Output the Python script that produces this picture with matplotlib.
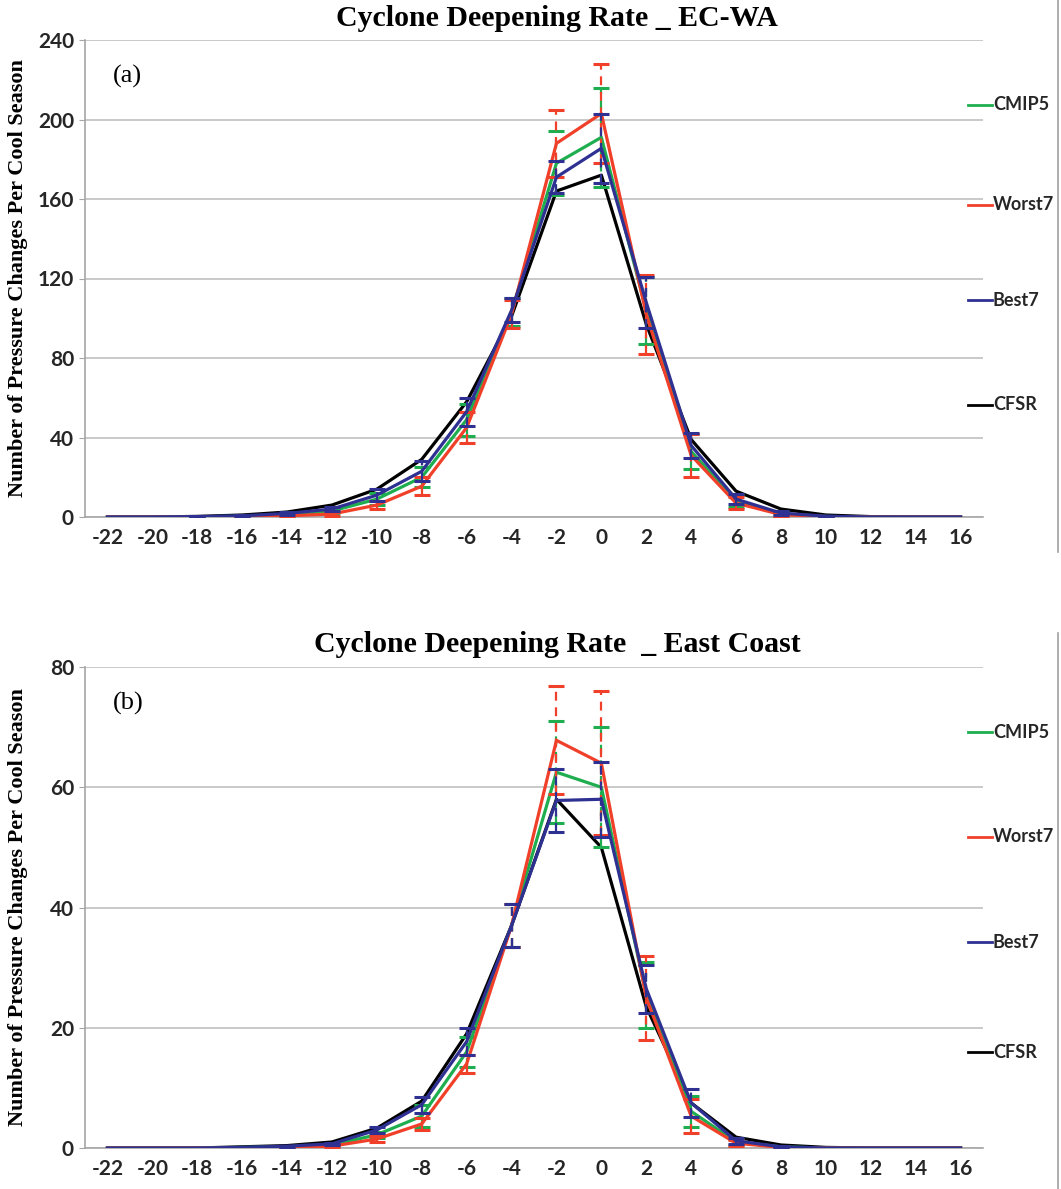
import matplotlib.pyplot as plt
from matplotlib.lines import Line2D
import numpy as np

# Deepening rate categories (hPa change)
x = [-22, -20, -18, -16, -14, -12, -10, -8, -6, -4, -2, 0, 2, 4, 6, 8, 10, 12, 14, 16]

# Panel (a) EC-WA
cfsr_a = [0, 0, 0.3, 1, 2.5, 6, 14, 29, 58, 101, 164, 172, 97, 39, 13, 4, 1, 0.2, 0, 0]
cmip5_a = [0, 0, 0.1, 0.4, 1.2, 3, 9, 20, 49, 103, 178, 191, 104, 33, 8, 1.5, 0.3, 0, 0, 0]
worst7_a = [0, 0, 0, 0.2, 0.6, 1.5, 6, 15.5, 45, 102, 188, 203, 102, 31, 7, 1.2, 0.2, 0, 0, 0]
best7_a = [0, 0, 0.2, 0.6, 1.8, 4, 11, 23, 53, 104, 171, 185.5, 108, 36, 9, 2, 0.4, 0, 0, 0]
cmip5_a_err = [0, 0, 0.1, 0.2, 0.5, 1.2, 3, 5, 8, 7, 16, 25, 17, 9, 3, 1, 0.3, 0, 0, 0]
worst7_a_err = [0, 0, 0, 0.2, 0.4, 1, 2, 4.5, 8, 7, 17, 25, 20, 11, 3, 1, 0.2, 0, 0, 0]
best7_a_err = [0, 0, 0.1, 0.3, 0.6, 1.2, 3, 5, 7, 6, 8, 17.5, 13, 6.5, 2.5, 1, 0.3, 0, 0, 0]

# Panel (b) East Coast
cfsr_b = [0, 0, 0, 0.2, 0.4, 1, 3.3, 7.8, 19, 37, 58, 50, 23.5, 7.5, 1.8, 0.5, 0.1, 0, 0, 0]
cmip5_b = [0, 0, 0, 0.1, 0.2, 0.5, 2.2, 5.3, 16, 37, 62.5, 60, 25.5, 6.1, 1, 0.2, 0, 0, 0, 0]
worst7_b = [0, 0, 0, 0, 0.1, 0.3, 1.5, 4, 14, 37, 67.8, 64, 25, 5.3, 0.8, 0.1, 0, 0, 0, 0]
best7_b = [0, 0, 0, 0.1, 0.3, 0.7, 3, 7.2, 17.7, 37, 57.8, 58, 26.5, 7.5, 1.2, 0.2, 0, 0, 0, 0]
cmip5_b_err = [0, 0, 0, 0, 0.1, 0.2, 0.5, 1.8, 2.5, 3.5, 8.5, 10, 5.5, 2.6, 0.5, 0.1, 0, 0, 0, 0]
worst7_b_err = [0, 0, 0, 0, 0.1, 0.2, 0.5, 1, 1.5, 3.5, 9, 12, 7, 2.8, 0.5, 0.1, 0, 0, 0, 0]
best7_b_err = [0, 0, 0, 0, 0.1, 0.2, 0.5, 1.3, 2.2, 3.5, 5.2, 6.2, 4, 2.3, 0.5, 0.1, 0, 0, 0, 0]

labels = ['CMIP5', 'Worst7', 'Best7', 'CFSR']
colors = {'CMIP5': '#1fae4f', 'Worst7': '#f0402a', 'Best7': '#2e3192', 'CFSR': '#000000'}

W, H = 1061, 1189
fig = plt.figure(figsize=(W / 100, H / 100), dpi=100)


def draw_panel(top, bottom, ymax, ystep, series, errs, title, tag, leg_y):
    ax = fig.add_axes([85 / W, 1 - bottom / H, 898 / W, (bottom - top) / H])
    # draw black first, then green, red, blue on top
    ax.plot(x, series['CFSR'], color=colors['CFSR'], lw=2.3, zorder=3)
    for z, name in enumerate(['CMIP5', 'Worst7', 'Best7']):
        y = np.array(series[name])
        e = np.array(errs[name])
        ax.plot(x, y, color=colors[name], lw=2.3, zorder=4 + z)
        m = e > 0.05
        eb = ax.errorbar(np.array(x)[m], y[m], yerr=e[m], fmt='none', ecolor=colors[name],
                         elinewidth=1.6, capsize=6, capthick=2.2, zorder=4 + z)
        eb.lines[2][0].set_linestyle((0, (4, 3)))
    ax.set_xlim(-23, 17)
    ax.set_ylim(0, ymax)
    ax.set_xticks(x)
    ax.set_xticklabels([str(v) for v in x])
    ax.set_yticks(np.arange(0, ymax + 1, ystep))
    ax.yaxis.grid(True, color='#c0c0c0', lw=1.2)
    ax.set_axisbelow(True)
    for s in ['top', 'right']:
        ax.spines[s].set_visible(False)
    for s in ['left', 'bottom']:
        ax.spines[s].set_color('#a6a6a6')
        ax.spines[s].set_linewidth(1.2)
    ax.tick_params(axis='y', direction='out', length=4, color='#a6a6a6', pad=4)
    ax.tick_params(axis='x', length=0, pad=8)
    for t in ax.get_xticklabels() + ax.get_yticklabels():
        t.set_fontfamily('Lato')
        t.set_fontweight('bold')
        t.set_fontsize(15)
        t.set_color('#262626')
    ax.set_ylabel('Number of Pressure Changes Per Cool Season', family='Liberation Serif',
                  fontweight='bold', fontsize=16)
    ax.yaxis.set_label_coords(-57 / 898, 0.5)
    fig.text(557 / W, 1 - (top - 22) / H, title, ha='center', va='center',
             family='Liberation Serif', fontweight='bold', fontsize=21.5)
    ax.text(28 / 898, 1 - 36 / (bottom - top), tag, transform=ax.transAxes, ha='left',
            va='center', family='Liberation Serif', fontsize=19)
    # legend keys at the right edge
    for name, yy in zip(labels, leg_y):
        fy = 1 - yy / H
        fig.add_artist(Line2D([968 / W, 992 / W], [fy, fy], color=colors[name], lw=2,
                              transform=fig.transFigure))
        fig.text(993 / W, fy, name, ha='left', va='center', family='Lato',
                 fontweight='bold', fontsize=13, color='#262626')
    return ax


draw_panel(40, 517, 240, 40,
           {'CMIP5': cmip5_a, 'Worst7': worst7_a, 'Best7': best7_a, 'CFSR': cfsr_a},
           {'CMIP5': cmip5_a_err, 'Worst7': worst7_a_err, 'Best7': best7_a_err},
           'Cyclone Deepening Rate _ EC-WA', '(a)', [105, 205, 300, 405])
draw_panel(667, 1148, 80, 20,
           {'CMIP5': cmip5_b, 'Worst7': worst7_b, 'Best7': best7_b, 'CFSR': cfsr_b},
           {'CMIP5': cmip5_b_err, 'Worst7': worst7_b_err, 'Best7': best7_b_err},
           'Cyclone Deepening Rate  _ East Coast', '(b)', [732, 837, 942, 1052])

# right border lines of the two chart frames
fig.add_artist(Line2D([1058 / W, 1058 / W], [1, 1 - 552 / H], color='#a0a0a0', lw=1.2,
                      transform=fig.transFigure))
fig.add_artist(Line2D([1058 / W, 1058 / W], [1 - 633 / H, 0], color='#a0a0a0', lw=1.2,
                      transform=fig.transFigure))

plt.savefig('out.png', dpi=100)
